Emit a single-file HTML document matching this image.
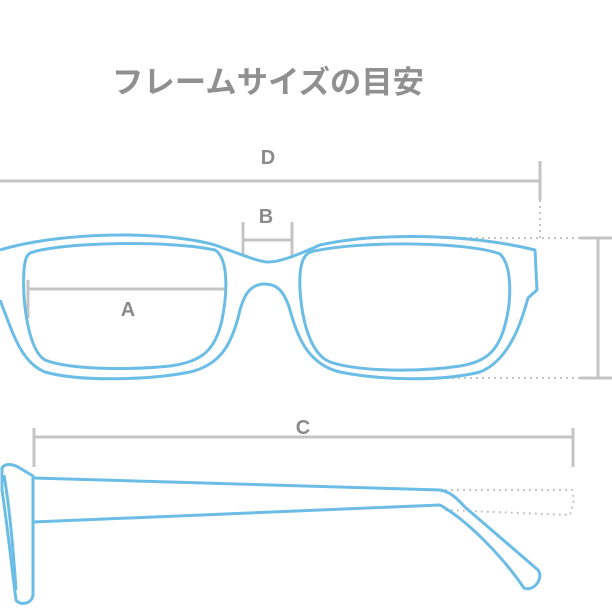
<!DOCTYPE html>
<html><head><meta charset="utf-8"><style>
html,body{margin:0;padding:0;background:#fff;width:612px;height:612px;overflow:hidden}
svg{display:block}
</style></head><body>
<svg width="612" height="612" viewBox="0 0 612 612" xmlns="http://www.w3.org/2000/svg">
<text x="268" y="93" text-anchor="middle" font-family="'Liberation Sans','Noto Sans CJK JP',sans-serif" font-size="31" font-weight="bold" fill="#909090" textLength="312" lengthAdjust="spacingAndGlyphs">フレームサイズの目安</text>
<g font-family="'Liberation Sans',sans-serif" font-size="20" font-weight="bold" fill="#8a8a8a" text-anchor="middle">
<text x="268" y="164">D</text>
<text x="266" y="223">B</text>
<text x="128" y="316">A</text>
<text x="303" y="434">C</text>
</g>
<g stroke="#c4c4c4" stroke-width="3" fill="none">
<line x1="0" y1="181" x2="540" y2="181"/>
<line x1="540" y1="161" x2="540" y2="200"/>
<line x1="243" y1="222" x2="243" y2="256"/>
<line x1="292" y1="222" x2="292" y2="256"/>
<line x1="243" y1="240" x2="292" y2="240"/>
<line x1="28" y1="289" x2="226" y2="289"/>
<line x1="28" y1="280" x2="28" y2="318"/>
<line x1="598" y1="238" x2="598" y2="378"/>
<line x1="580" y1="238" x2="612" y2="238"/>
<line x1="580" y1="378" x2="612" y2="378"/>
<line x1="34" y1="437" x2="573" y2="437"/>
<line x1="34" y1="428" x2="34" y2="467"/>
<line x1="573" y1="428" x2="573" y2="467"/>
</g>
<g stroke="#c4c4c4" stroke-width="2" fill="none" stroke-dasharray="2,4">
<line x1="540" y1="200" x2="540" y2="240"/>
<line x1="440" y1="238" x2="580" y2="238"/>
<line x1="440" y1="378" x2="580" y2="378"/>
<path d="M445 490 L572 490 L574 500 L570 515 L445 510"/>
</g>
<g stroke="#6cbde6" stroke-width="3" fill="none" stroke-linejoin="round">
<path d="M0 250 C60 232 160 230 215 245 C245 256 260 262 268 262 C280 262 295 256 320 245 C380 232 470 234 535 250 L537 290 L528 298 C522 320 510 360 480 372 C440 382 380 380 340 372 C310 365 298 340 290 310 C284 290 276 284 265 284 C252 284 245 292 240 310 C232 345 220 365 190 372 C150 380 80 382 45 372 C20 362 12 330 0 300"/>
<path d="M30 253 C60 242 170 240 215 250 C228 258 228 290 222 320 C215 352 200 362 170 366 C130 370 70 370 45 360 C28 350 22 300 24 270 C25 260 26 256 30 253 Z"/>
<path d="M310 252 C360 240 470 242 500 254 C512 265 512 300 505 325 C498 352 485 362 460 366 C420 372 360 372 330 362 C310 354 302 320 300 290 C299 268 302 256 310 252 Z"/>
<path d="M2 468 C5 463 12 464 18 467 L33 476 L33 595 C32 604 20 606 16 600 C12 570 8 530 2 490 Z"/>
<path d="M4 475 C10 510 14 560 16 590"/>
<path d="M33 478 L440 490 C452 492 458 500 466 508 L538 570 C544 578 534 592 524 588 C505 560 470 522 440 505 L33 522"/>
</g>
</svg>
</body></html>
